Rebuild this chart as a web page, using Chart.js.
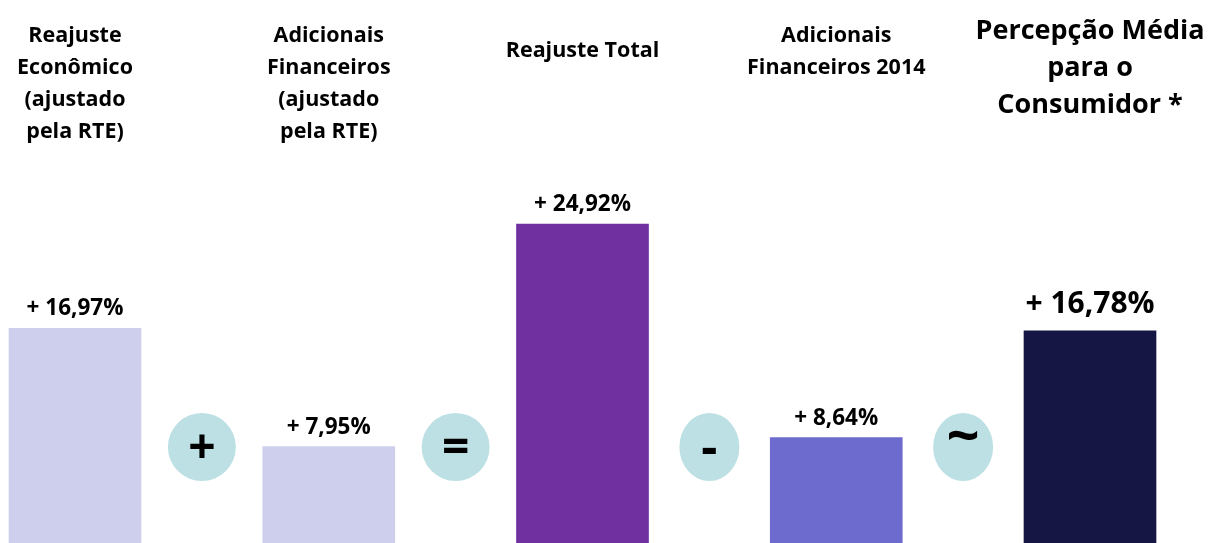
<!DOCTYPE html>
<html>
<head>
<meta charset="utf-8">
<script src="https://cdn.jsdelivr.net/npm/chart.js@4/dist/chart.umd.min.js"></script>
<style>
  html, body { margin: 0; padding: 0; background: #ffffff; overflow: hidden; }
  #wrap { position: relative; width: 1220px; height: 551px; }
</style>
</head>
<body>
<div id="wrap"><canvas id="c"></canvas></div>
<script>
// ---- data ----
const categories = ['Reajuste Econômico', 'Adicionais Financeiros', 'Reajuste Total', 'Adicionais Financeiros 2014', 'Percepção Média para o Consumidor'];
const values = [16.97, 7.95, 24.92, 8.64, 16.78];
const valueLabels = ['+ 16,97%', '+ 7,95%', '+ 24,92%', '+ 8,64%', '+ 16,78%'];
const headerLines = [
  ['Reajuste', 'Econômico', '(ajustado', 'pela RTE)'],
  ['Adicionais', 'Financeiros', '(ajustado', 'pela RTE)'],
  ['Reajuste Total'],
  ['Adicionais', 'Financeiros 2014'],
  ['Percepção Média', 'para o', 'Consumidor *']
];
const operators = ['+', '=', '-', '~'];
const barColors = ['#CDCFED', '#CDCFED', '#7030A0', '#6D6BCD', '#161645'];

const FONT = '"Open Sans", Lato, sans-serif';

const overlay = {
  id: 'overlay',
  afterDatasetsDraw(chart) {
    const ctx = chart.ctx;
    const meta = chart.getDatasetMeta(0);
    const bottom = chart.chartArea.bottom;
    ctx.save();
    ctx.fillStyle = '#000000';
    ctx.textAlign = 'center';
    // headers
    meta.data.forEach((bar, i) => {
      const lines = headerLines[i];
      const big = i === 4;
      ctx.font = (big ? 'bold 27px ' : 'bold 21.5px ') + FONT;
      ctx.textBaseline = 'middle';
      const lh = big ? 37 : 32;
      let y0;
      if (big) y0 = 31;
      else if (lines.length === 1) y0 = 51;
      else y0 = 36;
      lines.forEach((t, k) => ctx.fillText(t, bar.x, y0 + k * lh));
      // value label
      ctx.font = (big ? 'bold 30px ' : 'bold 22.5px ') + FONT;
      ctx.textBaseline = 'alphabetic';
      ctx.fillText(valueLabels[i], bar.x, bar.y - (big ? 18 : 13));
    });
    // operators
    for (let i = 0; i < operators.length; i++) {
      const a = meta.data[i], b = meta.data[i + 1];
      const cx = (a.x + b.x) / 2;
      const cy = bottom - 104;
      const rx = i < 2 ? 34 : 30;
      ctx.beginPath();
      ctx.ellipse(cx, cy, rx, 34, 0, 0, Math.PI * 2);
      ctx.fillStyle = '#BCE0E3';
      ctx.fill();
      ctx.fillStyle = '#000000';
      ctx.textBaseline = 'middle';
      let dy = 2, size = 48;
      if (operators[i] === '~') { dy = -8; size = 58; }
      if (operators[i] === '-') { dy = 3; size = 50; }
      ctx.font = 'bold ' + size + 'px ' + FONT;
      ctx.fillText(operators[i], cx, cy + dy);
    }
    ctx.restore();
  }
};

new Chart(document.getElementById('c'), {
  type: 'bar',
  data: {
    labels: categories,
    datasets: [{
      data: values,
      backgroundColor: barColors,
      borderWidth: 0,
      barThickness: 132,
      clip: false
    }]
  },
  options: {
    responsive: true,
    maintainAspectRatio: false,
    animation: false,
    layout: { padding: { left: 75, right: 130, top: 0, bottom: 0 } },
    plugins: { legend: { display: false }, tooltip: { enabled: false } },
    scales: {
      x: { display: false, offset: false, grid: { display: false } },
      y: { display: false, min: 0, max: 42 }
    }
  },
  plugins: [overlay]
});
</script>
</body>
</html>
